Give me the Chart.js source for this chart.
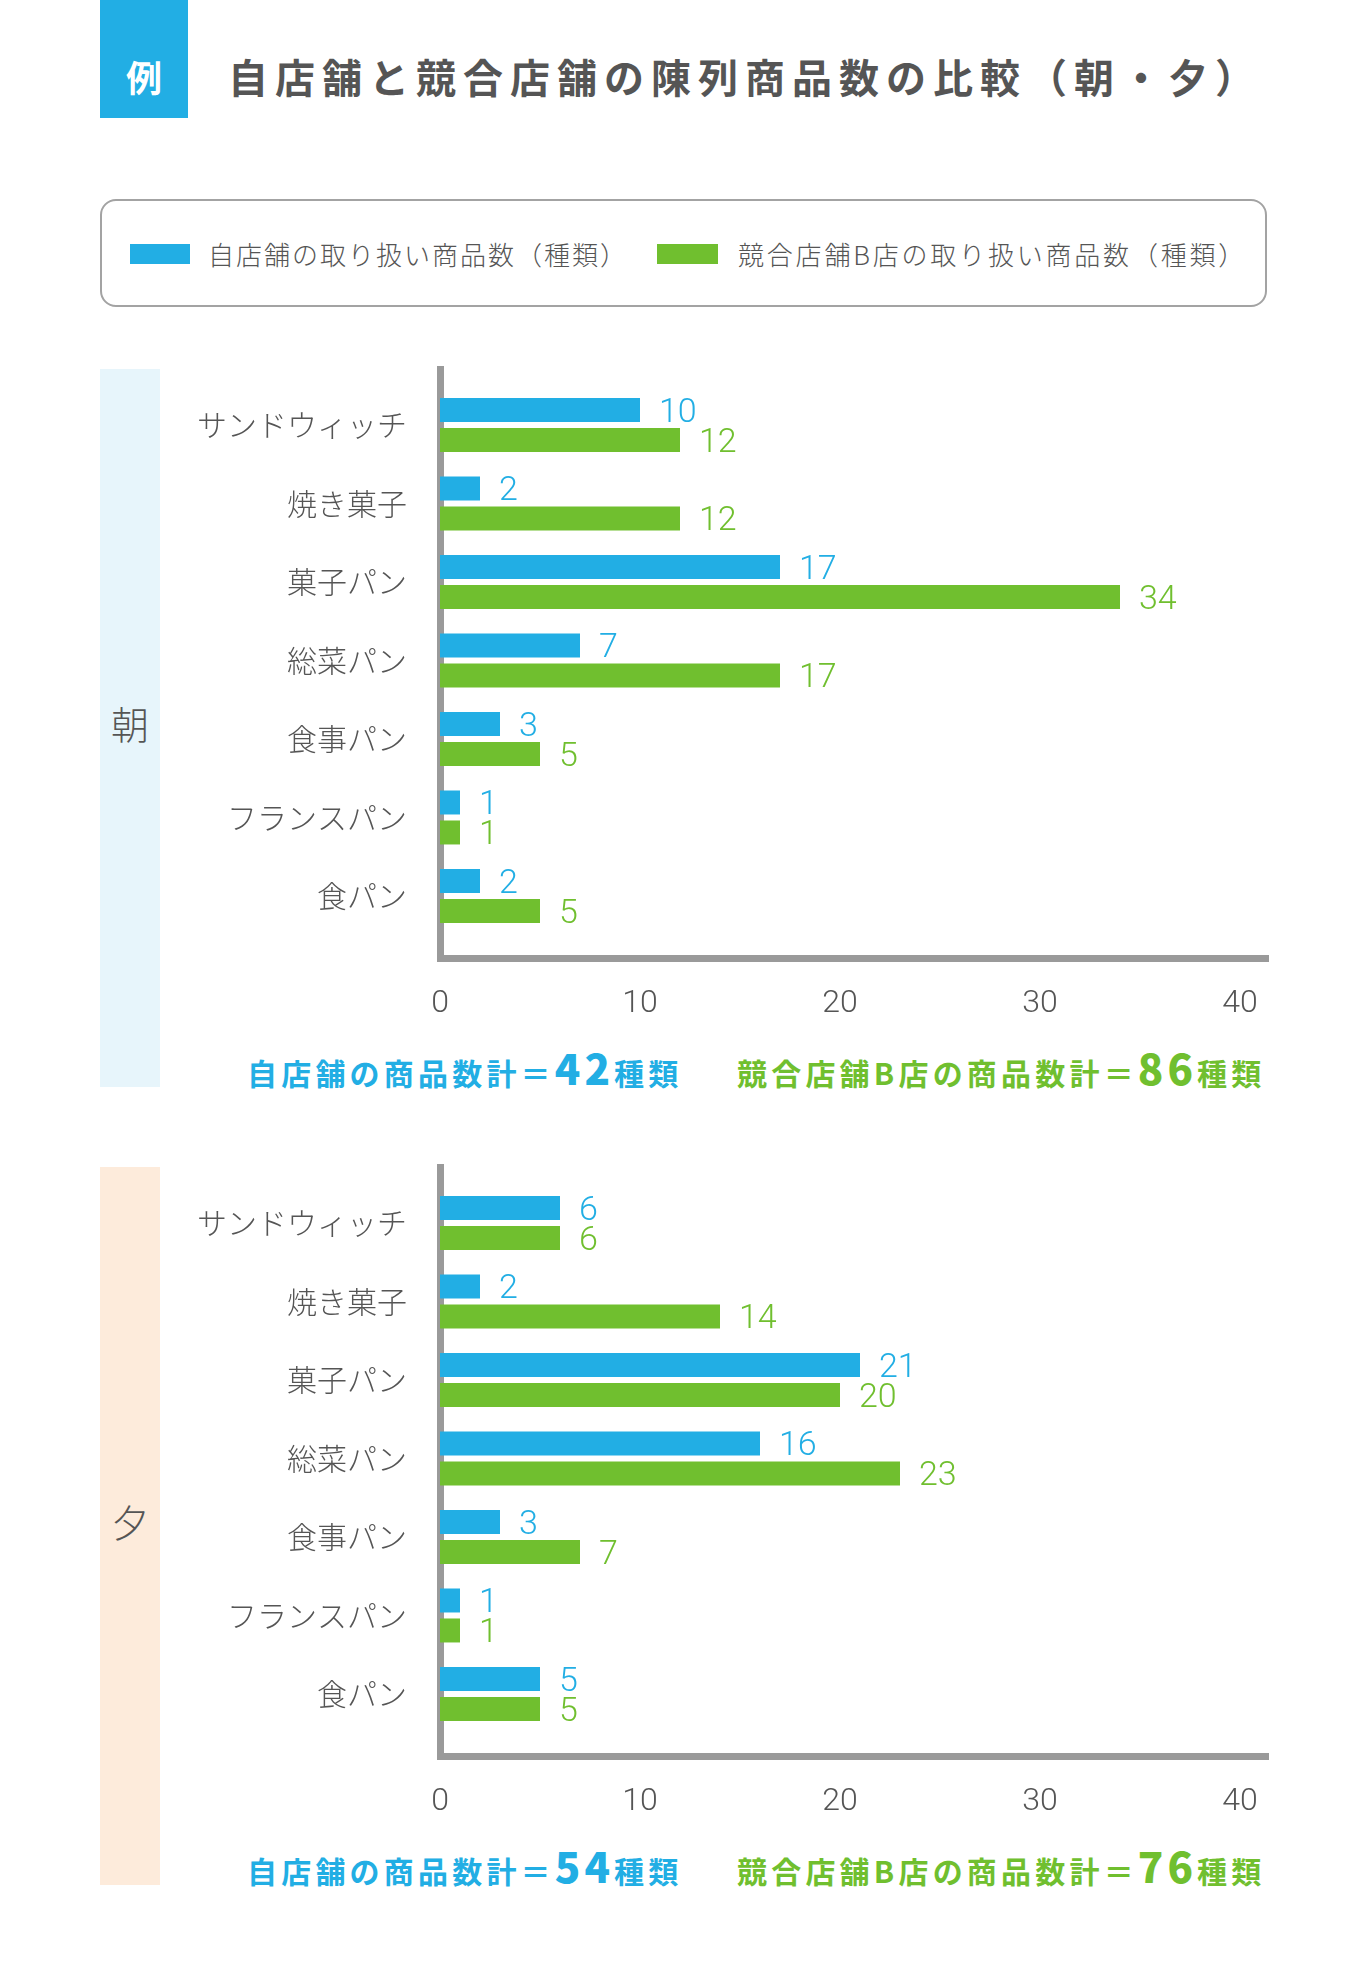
<!DOCTYPE html>
<html lang="ja">
<head>
<meta charset="utf-8">
<script src="https://cdn.jsdelivr.net/npm/chart.js@4.4.1/dist/chart.umd.min.js"></script>
<style>
html,body{margin:0;padding:0;background:#fff;}
#page{position:relative;width:1368px;height:1986px;overflow:hidden;font-family:"Noto Sans CJK JP","Noto Sans",sans-serif;color:#555;}
.abs{position:absolute;white-space:nowrap;line-height:1;}
#tagbox{left:100px;top:0;width:88px;height:118px;background:#22aee4;}
#tag{left:100px;width:88px;top:76px;transform:translateY(-50%);text-align:center;color:#fff;font-weight:700;font-size:36px;}
#title{left:228px;top:76px;transform:translateY(-50%);font-weight:700;font-size:40px;letter-spacing:7px;color:#555;}
#legend{left:100px;top:199px;width:1167px;height:108px;box-sizing:border-box;border:2px solid #a3a3a3;border-radius:16px;}
.sw{height:20px;top:244px;}
.lt{top:254px;transform:translateY(-50%);font-size:26px;letter-spacing:2px;font-weight:300;color:#555;}
.band{left:100px;width:60px;}
.bandlabel{left:100px;width:60px;text-align:center;font-size:38px;font-weight:300;color:#555;transform:translateY(-50%);}
.sum{font-size:30px;font-weight:700;letter-spacing:4.2px;transform:translateY(-50%);}
.sum .num{font-size:42px;font-weight:900;letter-spacing:4px;}
canvas.chart{position:absolute;}
</style>
</head>
<body>
<div id="page">
  <div id="tagbox" class="abs"></div>
  <div id="tag" class="abs">例</div>
  <div id="title" class="abs">自店舗と競合店舗の陳列商品数の比較（朝・夕）</div>
  <div id="legend" class="abs"></div>
</div>
<script>
// ---- data ----
const TITLE = "自店舗と競合店舗の陳列商品数の比較（朝・夕）";
const SERIES_NAMES = ["自店舗の取り扱い商品数（種類）", "競合店舗B店の取り扱い商品数（種類）"];
const SHORT_NAMES = ["自店舗の商品数計＝", "競合店舗B店の商品数計＝"];
const UNIT = "種類";
const CATEGORIES = ["サンドウィッチ", "焼き菓子", "菓子パン", "総菜パン", "食事パン", "フランスパン", "食パン"];
const PANEL_LABELS = ["朝", "夕"];
const MORNING_OWN = [10, 2, 17, 7, 3, 1, 2];
const MORNING_RIVAL = [12, 12, 34, 17, 5, 1, 5];
const EVENING_OWN = [6, 2, 21, 16, 3, 1, 5];
const EVENING_RIVAL = [6, 14, 20, 23, 7, 1, 5];
const X_TICKS = [0, 10, 20, 30, 40];

// ---- styles ----
const BLUE = "#22aee4";
const GREEN = "#70bf2f";
const AXIS = "#9a9a9a";
const TEXT = "#555555";
const BANDS = ["#e7f5fb", "#fdebdb"];

const page = document.getElementById('page');
function el(tag, cls, css, text){
  const e = document.createElement(tag);
  if (cls) e.className = cls;
  Object.assign(e.style, css || {});
  if (text !== undefined) e.textContent = text;
  page.appendChild(e);
  return e;
}

// legend
el('div','abs sw',{left:'130px',width:'60px',background:BLUE});
el('div','abs lt',{left:'208px'},SERIES_NAMES[0]);
el('div','abs sw',{left:'657px',width:'61px',background:GREEN});
el('div','abs lt',{left:'738px',letterSpacing:'2.8px'},SERIES_NAMES[1]);

const valueLabels = {
  id:'valueLabels',
  afterDatasetsDraw(chart){
    const ctx = chart.ctx;
    ctx.save();
    ctx.font = '300 34px Roboto, "Noto Sans", sans-serif';
    ctx.textBaseline = 'alphabetic';
    ctx.textAlign = 'left';
    chart.data.datasets.forEach((ds, di) => {
      const meta = chart.getDatasetMeta(di);
      ctx.fillStyle = ds.backgroundColor;
      meta.data.forEach((bar, i) => {
        ctx.fillText(String(ds.data[i].x), bar.x + 19, bar.y + 12);
      });
    });
    ctx.restore();
  }
};

const sum = a => a.reduce((s, v) => s + v, 0);
function zeroPad(s){ s.paddingTop = 0; s.paddingBottom = 0; s.paddingLeft = 0; s.paddingRight = 0; }

function makePanel(offset, idx, own, rival){
  el('div','abs band',{top:(369+offset)+'px',height:'718px',background:BANDS[idx]});
  el('div','abs bandlabel',{top:(723+offset)+'px'},PANEL_LABELS[idx]);

  const s1 = el('div','abs sum',{left:'247px',top:(1067+offset)+'px',color:BLUE});
  s1.innerHTML = SHORT_NAMES[0] + '<span class="num">' + sum(own) + '</span>' + UNIT;
  const s2 = el('div','abs sum',{left:'737px',top:(1067+offset)+'px',color:GREEN});
  s2.innerHTML = SHORT_NAMES[1] + '<span class="num">' + sum(rival) + '</span>' + UNIT;

  const cv = document.createElement('canvas');
  cv.className = 'chart';
  cv.width = 1120; cv.height = 700;
  cv.style.left = '160px'; cv.style.top = (349+offset)+'px';
  cv.style.width = '1120px'; cv.style.height = '700px';
  page.appendChild(cv);

  const border = {display:true, width:7, color:AXIS};
  new Chart(cv, {
    type:'bar',
    data:{datasets:[
      {label:SERIES_NAMES[0], data:own.map((v,i)=>({x:v,y:i})), backgroundColor:BLUE},
      {label:SERIES_NAMES[1], data:rival.map((v,i)=>({x:v,y:i})), backgroundColor:GREEN}
    ]},
    options:{
      indexAxis:'y', responsive:false, animation:false, devicePixelRatio:1,
      categoryPercentage:0.764, barPercentage:0.8,
      layout:{padding:{top:20,right:12,left:0,bottom:0}},
      plugins:{legend:{display:false},tooltip:{enabled:false}},
      scales:{
        x:{type:'linear', position:'bottom', min:0, max:41.4, z:1, offset:false,
           grid:{display:false, drawTicks:false, offset:false}, border:border,
           afterBuildTicks:s=>{ s.ticks = X_TICKS.map(v=>({value:v})); },
           afterFit:s=>{ s.height = 91; zeroPad(s); },
           ticks:{padding:27, color:TEXT, maxRotation:0, autoSkip:false,
                  font:{family:'Roboto, "Noto Sans", sans-serif', size:32, weight:300}}},
        y:{type:'linear', position:'left', reverse:true, min:-0.713, max:6.79, z:1, offset:false,
           grid:{display:false, drawTicks:false, offset:false}, border:border,
           afterBuildTicks:s=>{ s.ticks = CATEGORIES.map((c,i)=>({value:i})); },
           afterFit:s=>{ s.width = 280; zeroPad(s); },
           ticks:{padding:33, color:TEXT, autoSkip:false,
                  font:{family:'"Noto Sans CJK JP", sans-serif', size:30, weight:300},
                  callback:v=>CATEGORIES[v]}}
      }
    },
    plugins:[valueLabels]
  });
}

makePanel(0, 0, MORNING_OWN, MORNING_RIVAL);
makePanel(798, 1, EVENING_OWN, EVENING_RIVAL);
</script>
</body>
</html>
